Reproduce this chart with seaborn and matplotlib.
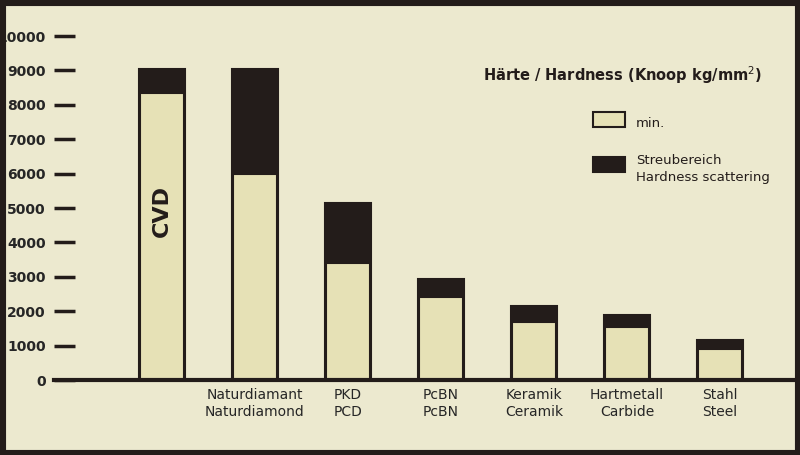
import pandas as pd
import matplotlib.pyplot as plt
import seaborn as sns
from matplotlib.patches import Rectangle

sns.set_theme(style="white")
plt.rcParams['font.family'] = ['DejaVu Sans']

# Daten (Knoop kg/mm²)
materialien = ['CVD', 'Naturdiamant\nNaturdiamond', 'PKD\nPCD', 'PcBN\nPcBN',
               'Keramik\nCeramik', 'Hartmetall\nCarbide', 'Stahl\nSteel']
haerte_min = [8350, 6000, 3400, 2400, 1700, 1550, 900]
haerte_max = [9050, 9050, 5150, 2950, 2150, 1900, 1150]

df = pd.DataFrame({'Material': materialien, 'Min': haerte_min, 'Max': haerte_max})

bg = '#ece9cf'
hell = '#e6e1b6'
dunkel = '#231c1a'

fig = plt.figure(figsize=(8, 4.55), dpi=100, facecolor=bg)
ax = fig.add_axes([54/800, 75/455, 1 - 54/800, 344/455])
ax.set_facecolor(bg)

sns.barplot(data=df, x='Material', y='Max', color=dunkel, width=0.5,
            edgecolor=dunkel, linewidth=1.5, saturation=1, ax=ax)
sns.barplot(data=df, x='Material', y='Min', color=hell, width=0.48,
            edgecolor=dunkel, linewidth=1.5, saturation=1, ax=ax)

ax.set_xlim(-1.16, 6.86)
ax.set_ylim(0, 10000)
ax.set_yticks(range(0, 10001, 1000))
ax.set_xticks(range(1, 7))
ax.set_xticklabels(materialien[1:], fontsize=10)
ax.tick_params(axis='x', length=0, pad=6)
ax.tick_params(axis='y', left=True, direction='in', length=15, width=2.5,
               color=dunkel, labelsize=10, pad=6)
for lab in ax.get_yticklabels():
    lab.set_fontweight('bold')
ax.set_xlabel('')
ax.set_ylabel('')
for s in ['top', 'right', 'left']:
    ax.spines[s].set_visible(False)
ax.spines['bottom'].set_linewidth(3)
ax.spines['bottom'].set_color(dunkel)

ax.text(0, 4900, 'CVD', rotation=90, ha='center', va='center',
        fontsize=16, fontweight='bold', color=dunkel)

# Legende
fig.text(762/800, 1 - 75/455, 'Härte / Hardness (Knoop kg/mm$^2$)', ha='right',
         va='center', fontsize=10.5, fontweight='bold', color=dunkel)
fig.add_artist(Rectangle((593/800, 1 - 127/455), 32/800, 15/455,
                         transform=fig.transFigure, facecolor=hell,
                         edgecolor=dunkel, linewidth=1.5))
fig.add_artist(Rectangle((593/800, 1 - 172/455), 32/800, 15/455,
                         transform=fig.transFigure, facecolor=dunkel,
                         edgecolor=dunkel, linewidth=1.5))
fig.text(636/800, 1 - 124/455, 'min.', va='center', fontsize=9.5, color=dunkel)
fig.text(636/800, 1 - 169/455, 'Streubereich\nHardness scattering', va='center',
         fontsize=9.5, color=dunkel, linespacing=1.3)

# Rahmen
fig.add_artist(Rectangle((0, 0), 1, 1, transform=fig.transFigure, fill=False,
                         edgecolor=dunkel, linewidth=8))

fig.savefig('out.png', dpi=100, facecolor=bg)
